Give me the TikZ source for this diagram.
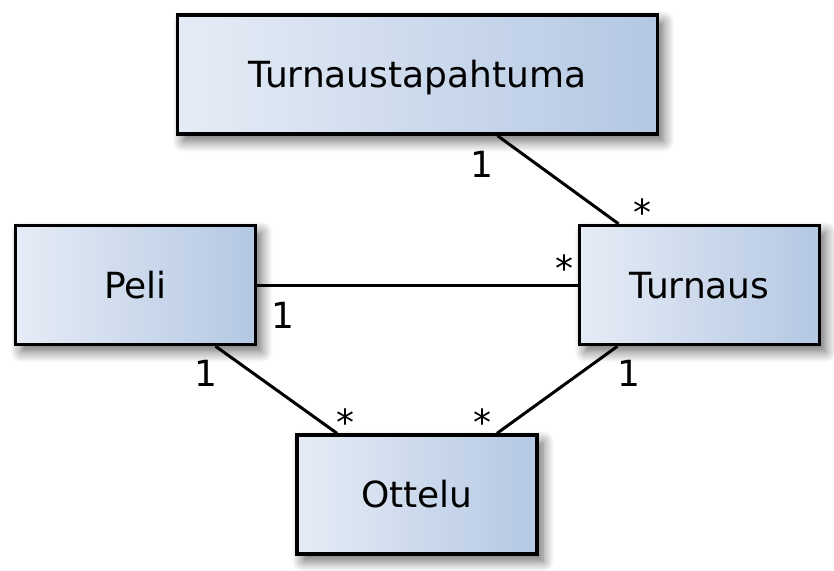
\documentclass[tikz,border=0pt]{standalone}
\usepackage{fontspec}
\setmainfont{DejaVu Sans}
\usetikzlibrary{shadows.blur,calc}
\definecolor{boxL}{RGB}{230,236,246}
\definecolor{boxR}{RGB}{180,200,227}
\tikzset{
  cls/.style={draw=black, line width=3.4pt, left color=boxL, right color=boxR,
    minimum width=240pt, minimum height=119pt, inner sep=0pt,
    text height=26pt, text depth=0pt,
    blur shadow={shadow xshift=6pt, shadow yshift=-7pt, shadow blur radius=11pt, shadow blur steps=10, shadow opacity=60},
    font=\fontsize{36}{42}\selectfont},
  assoc/.style={line width=3pt},
  mult/.style={anchor=base, inner sep=0pt, font=\fontsize{36}{42}\selectfont}
}
\begin{document}
\begin{tikzpicture}[x=1pt,y=-1pt]
\useasboundingbox (0,0) rectangle (834,570);
\node[cls, minimum width=480pt] (T) at (417.5,74.5) {Turnaustapahtuma};
\node[cls] (P) at (135.5,285) {Peli};
\node[cls] (U) at (699.5,285) {Turnaus};
\node[cls] (O) at (417,494.5) {Ottelu};

\draw[assoc] ($(T.south)+(80,0)$) -- ($(U.north)+(-81,0)$);
\draw[assoc] (P.east) -- (U.west);
\draw[assoc] ($(P.south)+(80,0)$) -- ($(O.north)+(-80,0)$);
\draw[assoc] ($(U.south)+(-82,0)$) -- ($(O.north)+(80,0)$);

\node[mult] (m1) at (482,177) {1};
\node[mult] (m2) at (642,225) {*};
\node[mult] (m3) at (564.5,281.6) {*};
\node[mult] (m4) at (283,328) {1};
\node[mult] (m5) at (205.5,386) {1};
\node[mult] (m6) at (345,435) {*};
\node[mult] (m7) at (482,435) {*};
\node[mult] (m8) at (628.7,386.7) {1};
\end{tikzpicture}
\end{document}
